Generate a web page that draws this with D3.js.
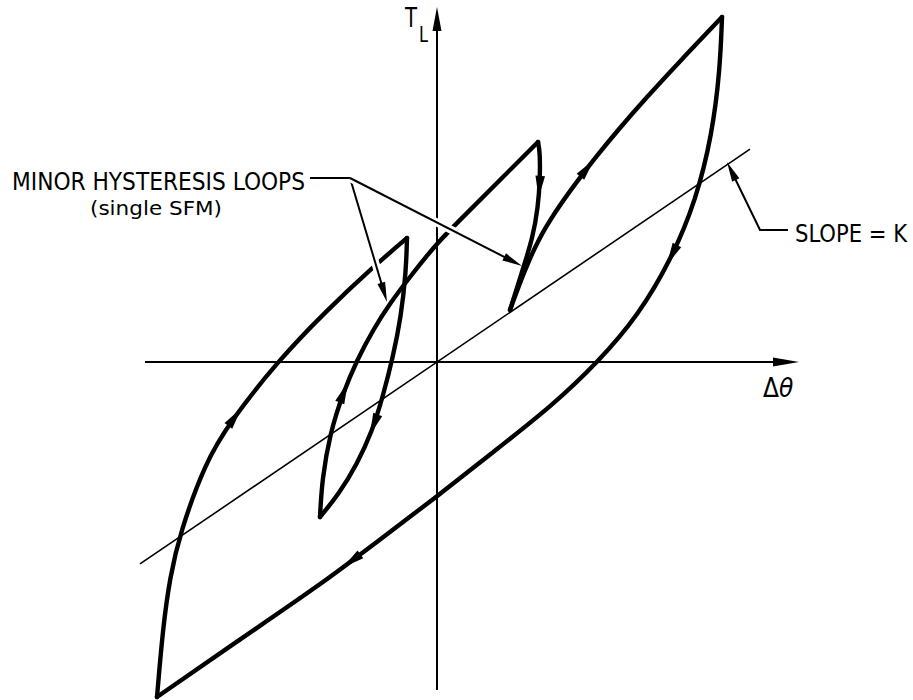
<!DOCTYPE html>
<html>
<head>
<meta charset="utf-8">
<script src="https://cdn.jsdelivr.net/npm/d3@7"></script>
<style>
  body { margin: 0; background: #fff; }
  svg { display: block; }
  text { font-family: "DejaVu Sans Condensed", "DejaVu Sans", sans-serif; fill: #000; }
</style>
</head>
<body>
<svg id="chart" width="913" height="700"></svg>
<script>
// Torque (T_L) vs twist (Δθ) hysteresis diagram, arbitrary units, origin at the axis crossing.

// Major loop, rising branch: from the negative extreme up to the first reversal point
const majorAscending = [
  [-28.0, -33.5], [-27.4, -26.5], [-26.7, -21.5], [-25.7, -17.1], [-23.2, -10.1],
  [-20.7, -6.0], [-16.0, 0.0], [-11.2, 5.0], [-6.4, 9.5], [-3.0, 12.4]
];
// First minor loop: reversal downward, then back up to the second reversal point
const minor1Descending = [
  [-3.0, 12.4], [-3.1, 9.0], [-3.6, 4.5], [-4.4, 0.5], [-5.4, -3.4],
  [-6.5, -7.0], [-8.0, -10.2], [-9.8, -13.2], [-11.7, -15.5]
];
const minor1Ascending = [
  [-11.7, -15.5], [-11.5, -11.8], [-10.7, -7.1], [-9.4, -3.1], [-8.0, 0.2],
  [-6.4, 3.2], [-4.7, 5.9], [-2.4, 8.9], [0.0, 11.9], [2.3, 14.2],
  [6.2, 18.1], [10.1, 22.0]
];
// Second minor loop: reversal downward, then up to the positive extreme
const minor2Descending = [
  [10.1, 22.0], [10.3, 21.0], [10.3, 18.2], [10.1, 15.5], [9.6, 12.5],
  [8.5, 9.0], [7.3, 5.2]
];
const minor2Ascending = [
  [7.3, 5.2], [8.7, 9.0], [10.1, 12.2], [11.8, 15.0], [13.8, 17.8],
  [15.8, 20.4], [18.1, 23.2], [20.8, 26.3], [24.5, 30.3], [28.5, 34.5]
];
// Major loop, falling branch: from the positive extreme back to the negative extreme
const majorDescending = [
  [28.5, 34.5], [28.3, 29.2], [27.5, 22.7], [25.9, 16.2], [23.5, 10.4],
  [20.1, 4.6], [16.1, 0.0], [11.6, -4.3], [5.5, -9.1], [-0.2, -13.6],
  [-5.9, -17.9], [-11.7, -22.3], [-19.8, -27.8], [-28.0, -33.5]
];

// Straight line of slope K through the origin
const slopeK = 0.68;
const slopeXExtent = [-29.7, 31.3];

// Axis extents
const xAxisExtent = [-29.2, 36.2];
const yAxisExtent = [-32.8, 35.5];

// Direction arrows on the branches (tip positions)
const branchArrows = [
  { branch: "majorAscending",   tip: [-19.6, -4.6] },
  { branch: "minor1Ascending",  tip: [-9.4, -1.8] },
  { branch: "minor1Descending", tip: [-6.2, -7.5] },
  { branch: "minor2Descending", tip: [10.3, 16.4] },
  { branch: "minor2Ascending",  tip: [15.1, 20.7] },
  { branch: "majorDescending",  tip: [23.5, 9.5] },
  { branch: "majorDescending",  tip: [-9.4, -20.6] }
];

// Callout leaders
const minorLeaderStart = [-12.7, 18.4];
const minorLeaderElbow = [-8.7, 18.4];
const minorLeaderTips = [[-5.0, 6.0], [8.5, 9.6]];
const slopeLeaderTip = [29.0, 20.0];
const slopeLeaderElbow = [32.3, 13.2];
const slopeLeaderEnd = [35.1, 13.2];

const labelMinor = "MINOR HYSTERESIS LOOPS";
const labelMinorSub = "(single SFM)";
const labelSlope = "SLOPE = K";
const labelXDelta = "Δ";
const labelXTheta = "θ";
const labelY = "T";
const labelYSub = "L";

const svg = d3.select("#chart");
const x = d3.scaleLinear().domain([-30, 36]).range([137, 797]);
const y = d3.scaleLinear().domain([-34, 36]).range([702, 2]);

function arrowHead(g, tip, dir, len, half) {
  const [tx, ty] = tip;
  const [dx, dy] = dir;
  const bx = tx - dx * len, by = ty - dy * len;
  const nx = -dy, ny = dx;
  g.append("path")
    .attr("d", `M${tx},${ty}L${bx + nx * half},${by + ny * half}L${bx - nx * half},${by - ny * half}Z`)
    .attr("fill", "#000");
}

// Axes
const axes = svg.append("g").attr("stroke", "#000").attr("stroke-width", 2);
axes.append("line")
  .attr("x1", x(xAxisExtent[0])).attr("x2", x(xAxisExtent[1]) - 10)
  .attr("y1", y(0)).attr("y2", y(0));
axes.append("line")
  .attr("x1", x(0)).attr("x2", x(0))
  .attr("y1", y(yAxisExtent[0])).attr("y2", y(yAxisExtent[1]) + 10);
arrowHead(svg, [x(xAxisExtent[1]), y(0)], [1, 0], 26, 4.5);
arrowHead(svg, [x(0), y(yAxisExtent[1])], [0, -1], 24, 4.5);

// Slope line
svg.append("line")
  .attr("x1", x(slopeXExtent[0])).attr("y1", y(slopeK * slopeXExtent[0]))
  .attr("x2", x(slopeXExtent[1])).attr("y2", y(slopeK * slopeXExtent[1]))
  .attr("stroke", "#000").attr("stroke-width", 1.6);

// Hysteresis branches, drawn as smooth B-splines anchored at the reversal points
const branches = { majorAscending, minor1Descending, minor1Ascending,
                   minor2Descending, minor2Ascending, majorDescending };
const line = d3.line().x(d => x(d[0])).y(d => y(d[1])).curve(d3.curveBasis);
const curveG = svg.append("g");
const paths = {};
Object.entries(branches).forEach(([name, pts]) => {
  paths[name] = curveG.append("path")
    .attr("d", line(pts))
    .attr("fill", "none")
    .attr("stroke", "#000")
    .attr("stroke-width", 4.4)
    .attr("stroke-linecap", "round")
    .attr("stroke-linejoin", "round")
    .node();
});

branchArrows.forEach(a => {
  const p = paths[a.branch];
  const total = p.getTotalLength();
  const tx = x(a.tip[0]), ty = y(a.tip[1]);
  let best = 0, bestD = Infinity;
  for (let l = 0; l <= total; l += 0.5) {
    const q = p.getPointAtLength(l);
    const d = (q.x - tx) ** 2 + (q.y - ty) ** 2;
    if (d < bestD) { bestD = d; best = l; }
  }
  const q0 = p.getPointAtLength(Math.max(0, best - 8));
  const q1 = p.getPointAtLength(best);
  const dx = q1.x - q0.x, dy = q1.y - q0.y;
  const n = Math.hypot(dx, dy) || 1;
  arrowHead(svg, [q1.x, q1.y], [dx / n, dy / n], 22, 4.8);
});

// Leaders with a white gap where they cross other strokes
function leader(points) {
  const px = points.map(p => [x(p[0]), y(p[1])]);
  const last = px[px.length - 1], prev = px[px.length - 2];
  const dx = last[0] - prev[0], dy = last[1] - prev[1];
  const n = Math.hypot(dx, dy);
  const cut = [last[0] - dx / n * 30, last[1] - dy / n * 30];
  svg.append("path").attr("d", d3.line()(px.slice(0, -1).concat([cut])))
    .attr("fill", "none").attr("stroke", "#fff").attr("stroke-width", 8);
  svg.append("path").attr("d", d3.line()(px.slice(0, -1).concat([[last[0] - dx / n * 10, last[1] - dy / n * 10]])))
    .attr("fill", "none").attr("stroke", "#000").attr("stroke-width", 2);
  arrowHead(svg, last, [dx / n, dy / n], 20, 4);
}
leader([minorLeaderStart, minorLeaderElbow, minorLeaderTips[0]]);
leader([minorLeaderElbow, minorLeaderTips[1]]);
leader([slopeLeaderEnd, slopeLeaderElbow, slopeLeaderTip]);

// Labels
svg.append("text").attr("x", 12).attr("y", 190)
  .attr("font-size", 24).attr("textLength", 293).attr("lengthAdjust", "spacingAndGlyphs")
  .text(labelMinor);
svg.append("text").attr("x", 90).attr("y", 215)
  .attr("font-size", 19).attr("textLength", 132).attr("lengthAdjust", "spacingAndGlyphs")
  .text(labelMinorSub);
svg.append("text").attr("x", 795).attr("y", 242)
  .attr("font-size", 25).attr("textLength", 112).attr("lengthAdjust", "spacingAndGlyphs")
  .text(labelSlope);
const xl = svg.append("text").attr("x", 763).attr("y", 397).attr("font-size", 26);
xl.append("tspan").text(labelXDelta);
xl.append("tspan").attr("font-style", "italic").text(labelXTheta);
svg.append("text").attr("x", 405).attr("y", 27)
  .attr("font-size", 26).attr("textLength", 12).attr("lengthAdjust", "spacingAndGlyphs")
  .text(labelY);
svg.append("text").attr("x", 419).attr("y", 42)
  .attr("font-size", 22).attr("textLength", 9).attr("lengthAdjust", "spacingAndGlyphs")
  .text(labelYSub);
</script>
</body>
</html>
